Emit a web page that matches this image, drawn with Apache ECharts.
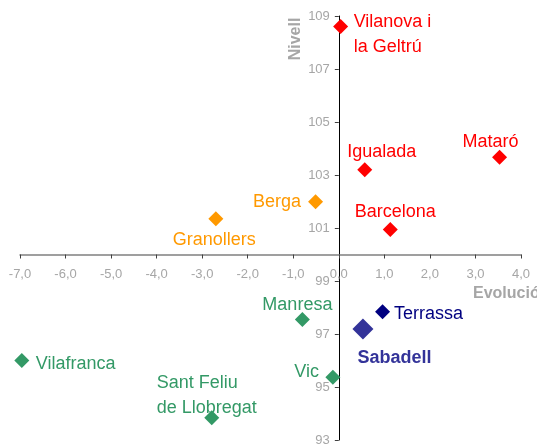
<!DOCTYPE html>
<html>
<head>
<meta charset="utf-8">
<script src="https://cdn.jsdelivr.net/npm/echarts@6/dist/echarts.min.js"></script>
<style>html,body{margin:0;padding:0;background:#fff}#c{width:537px;height:444px}</style>
</head>
<body>
<div id="c"></div>
<script>
// ---- data ----
const names = ['Vilanova i\nla Geltrú', 'Igualada', 'Mataró', 'Barcelona', 'Berga', 'Granollers', 'Manresa', 'Vic', 'Vilafranca', 'Sant Feliu\nde Llobregat', 'Terrassa', 'Sabadell'];
const evolucio = [0.04, 0.57, 3.53, 1.13, -0.51, -2.70, -0.80, -0.13, -6.96, -2.79, 0.96, 0.53];
const nivell = [108.6, 103.2, 103.67, 100.94, 101.99, 101.35, 97.55, 95.37, 96.0, 93.84, 97.84, 97.19];
const groups = ['red', 'red', 'red', 'red', 'orange', 'orange', 'green', 'green', 'green', 'green', 'navy', 'blue'];
const xTicks = [-7, -6, -5, -4, -3, -2, -1, 0, 1, 2, 3, 4];
const yTicks = [93, 95, 97, 99, 101, 103, 105, 107, 109];
const yCross = 100; // horizontal axis crosses the vertical axis at this level
const xCross = 0;   // vertical axis crosses the horizontal axis at this value

// ---- styles ----
const groupColor = { red: '#ff0000', orange: '#ff9900', green: '#339966', navy: '#000080', blue: '#333399' };
const labelPlace = [
  { align: 'left', offset: [13, 7.5] },
  { align: 'center', offset: [17, -18] },
  { align: 'center', offset: [-9, -15] },
  { align: 'center', offset: [5, -18] },
  { align: 'right', offset: [-14.5, 0] },
  { align: 'center', offset: [-1.5, 21] },
  { align: 'center', offset: [-5, -14.5] },
  { align: 'right', offset: [-14, -5] },
  { align: 'left', offset: [14, 4] },
  { align: 'left', offset: [-55, -22] },
  { align: 'left', offset: [11.5, 2.5] },
  { align: 'center', offset: [31.5, 29.5], bold: true }
];
const FONT = '"Liberation Sans", Arial, sans-serif';
const GRID = { left: 20, right: 16, top: 16, bottom: 4 };

const data = names.map((n, i) => {
  const c = groupColor[groups[i]];
  const p = labelPlace[i];
  return {
    name: n,
    value: [evolucio[i], nivell[i]],
    symbolSize: groups[i] === 'blue' ? 21 : 15,
    itemStyle: { color: c, opacity: 1 },
    label: {
      show: true,
      formatter: n,
      position: 'inside',
      align: p.align,
      verticalAlign: 'middle',
      offset: p.offset,
      color: c,
      fontSize: 18,
      lineHeight: 25,
      fontWeight: p.bold ? 'bold' : 'normal',
      fontFamily: FONT
    }
  };
});

const chart = echarts.init(document.getElementById('c'), null, { renderer: 'canvas' });
function buildOption(xOffset, yOffset) {
  return {
    animation: false,
    backgroundColor: '#ffffff',
    grid: Object.assign({ containLabel: false, outerBoundsMode: 'none' }, GRID),
    xAxis: {
      type: 'value',
      position: 'bottom',
      offset: xOffset,
      min: xTicks[0], max: xTicks[xTicks.length - 1], interval: 1,
      axisLine: { onZero: false, lineStyle: { color: '#808080', width: 1.5 } },
      axisTick: { show: true, length: 4, inside: false, lineStyle: { color: '#404040' } },
      axisLabel: {
        color: '#a6a6a6', fontSize: 13, fontFamily: FONT, margin: 13,
        hideOverlap: false,
        formatter: v => v.toFixed(1).replace('.', ',')
      },
      splitLine: { show: false }
    },
    yAxis: {
      type: 'value',
      position: 'left',
      offset: yOffset,
      min: yTicks[0], max: yTicks[yTicks.length - 1],
      axisLine: { onZero: false, lineStyle: { color: '#000000', width: 1 } },
      axisTick: { show: true, length: 4, customValues: yTicks, lineStyle: { color: '#404040' } },
      axisLabel: {
        color: '#a6a6a6', fontSize: 13, fontFamily: FONT, margin: 9,
        hideOverlap: false,
        customValues: yTicks,
        formatter: v => String(Math.round(v))
      },
      splitLine: { show: false }
    },
    graphic: [
      { type: 'text', x: 296, y: 39, rotation: Math.PI / 2,
        style: { text: 'Nivell', fill: '#a6a6a6', font: 'bold 16px ' + FONT, align: 'center', verticalAlign: 'middle' } },
      { type: 'text', x: 473, y: 294,
        style: { text: 'Evolució', fill: '#a6a6a6', font: 'bold 16px ' + FONT, align: 'left', verticalAlign: 'middle' } }
    ],
    series: [{
      type: 'scatter',
      symbol: 'diamond',
      data: data
    }]
  };
}
chart.setOption(buildOption(0, 0));
// move each axis to the crossing point, using the chart's own scales
const cross = chart.convertToPixel({ gridIndex: 0 }, [xCross, yCross]);
const H = chart.getHeight();
const gridBottomY = H - GRID.bottom;
const gridLeftX = GRID.left;
chart.setOption(buildOption(-(gridBottomY - cross[1]), -(cross[0] - gridLeftX)));
</script>
</body>
</html>
